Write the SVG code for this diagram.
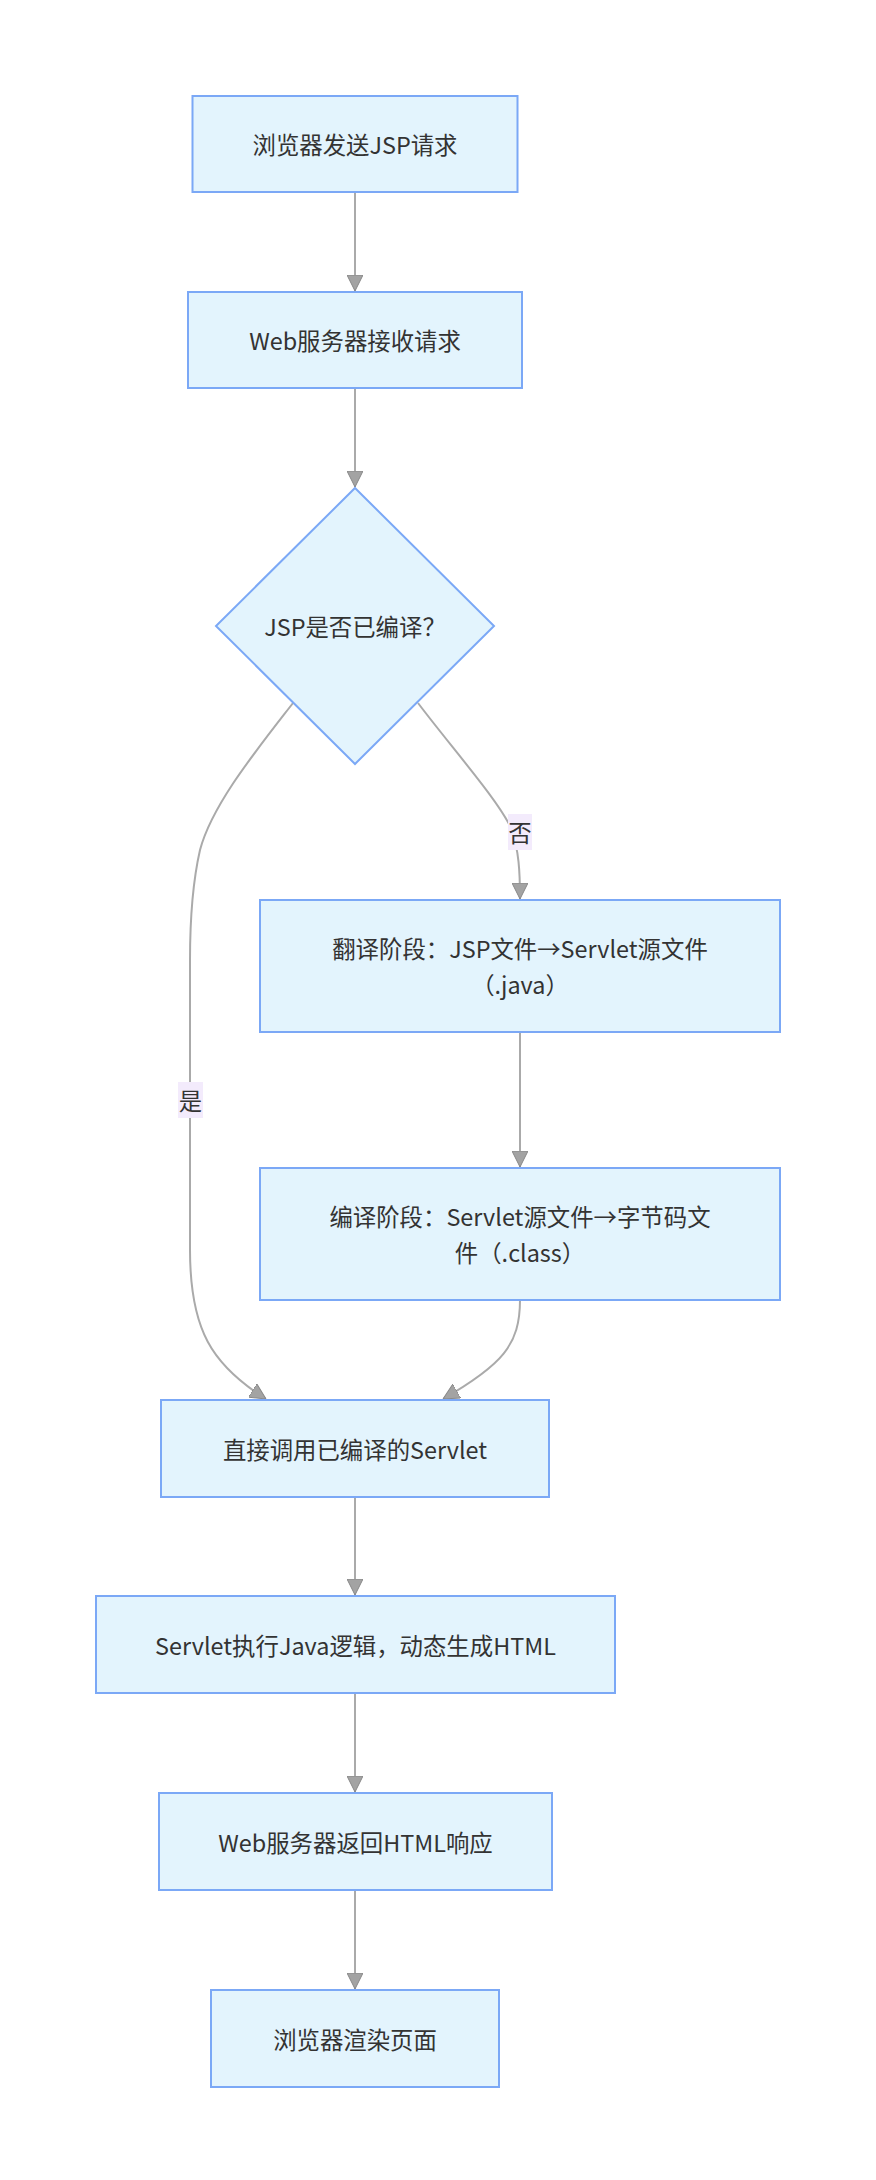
<svg xmlns="http://www.w3.org/2000/svg" width="876" height="2180" viewBox="0 0 876 2180">
<defs>
<style>
.node rect,.node polygon{fill:#e3f4fd;stroke:#7ba8f6;stroke-width:2}
.lbl{font-family:"Noto Sans CJK SC","Noto Sans",sans-serif;font-size:23.4px;fill:#333333;text-anchor:middle;dominant-baseline:central}
.edge{fill:none;stroke:#aaaaaa;stroke-width:2}
.elbl rect{fill:#f3ebfc}
</style>
<marker id="arrow" markerUnits="userSpaceOnUse" markerWidth="16" markerHeight="16" refX="16" refY="8" orient="auto">
<path d="M0,0 L16,8 L0,16 z" fill="#a3a3a3" stroke="#888888" stroke-width="1"/>
</marker>
</defs>
<rect width="876" height="2180" fill="#ffffff"/>
<g id="edges">
<path class="edge" d="M355,192 L355,291" marker-end="url(#arrow)"/>
<path class="edge" d="M355,388 L355,487" marker-end="url(#arrow)"/>
<path class="edge" d="M418,703 C452,748 498,800 511,828 C519,850 520,872 520,899" marker-end="url(#arrow)"/>
<path class="edge" d="M293,703 C255,752 212,805 200,850 C192,885 190,920 190,960 L190,1250 C190,1330 212,1365 266,1399" marker-end="url(#arrow)"/>
<path class="edge" d="M520,1032 L520,1167" marker-end="url(#arrow)"/>
<path class="edge" d="M520,1300 C520,1345 502,1365 443,1399" marker-end="url(#arrow)"/>
<path class="edge" d="M355,1497 L355,1595" marker-end="url(#arrow)"/>
<path class="edge" d="M355,1693 L355,1792" marker-end="url(#arrow)"/>
<path class="edge" d="M355,1890 L355,1989" marker-end="url(#arrow)"/>
<g class="elbl" id="label-no">
<rect x="508" y="814" width="24" height="36"/>
<text class="lbl" x="520" y="832">否</text>
</g>
<g class="elbl" id="label-yes">
<rect x="178" y="1082" width="25" height="36"/>
<text class="lbl" x="190.5" y="1100">是</text>
</g>
</g>
<g id="n1" class="node">
<rect x="192.5" y="96" width="325" height="96"/>
<text class="lbl" x="355" y="144">浏览器发送JSP请求</text>
</g>
<g id="n2" class="node">
<rect x="188" y="292" width="334" height="96"/>
<text class="lbl" x="355" y="340">Web服务器接收请求</text>
</g>
<g id="n3" class="node">
<polygon points="355,488 494,626 355,764 216,626"/>
<text class="lbl" x="355" y="626">JSP是否已编译？</text>
</g>
<g id="n4" class="node">
<rect x="260" y="900" width="520" height="132"/>
<text class="lbl" x="520" y="948">翻译阶段：JSP文件→Servlet源文件</text>
<text class="lbl" x="520" y="984">（.java）</text>
</g>
<g id="n5" class="node">
<rect x="260" y="1168" width="520" height="132"/>
<text class="lbl" x="520" y="1216">编译阶段：Servlet源文件→字节码文</text>
<text class="lbl" x="520" y="1252">件（.class）</text>
</g>
<g id="n6" class="node">
<rect x="161" y="1400" width="388" height="97"/>
<text class="lbl" x="355" y="1448.5">直接调用已编译的Servlet</text>
</g>
<g id="n7" class="node">
<rect x="96" y="1596" width="519" height="97"/>
<text class="lbl" x="355.5" y="1644.5">Servlet执行Java逻辑，动态生成HTML</text>
</g>
<g id="n8" class="node">
<rect x="159" y="1793" width="393" height="97"/>
<text class="lbl" x="355.5" y="1841.5">Web服务器返回HTML响应</text>
</g>
<g id="n9" class="node">
<rect x="211" y="1990" width="288" height="97"/>
<text class="lbl" x="355" y="2038.5">浏览器渲染页面</text>
</g>
</svg>
